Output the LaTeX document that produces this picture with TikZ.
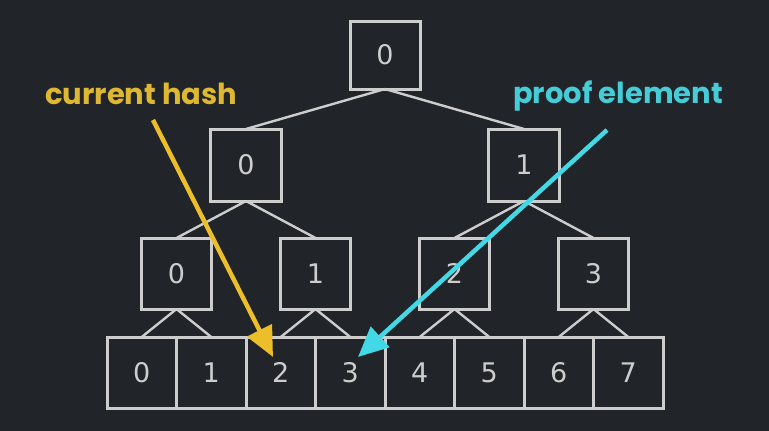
\documentclass[tikz,border=0pt]{standalone}
\usepackage{fontspec}
\setsansfont{DejaVu Sans}
\newfontfamily\labelfont{Poppins}
\usetikzlibrary{arrows.meta,calc,positioning}
\definecolor{figBg}{RGB}{33,36,41}
\definecolor{figW}{RGB}{205,205,205}
\definecolor{figY}{RGB}{236,190,42}
\definecolor{figYt}{RGB}{222,184,50}
\definecolor{figC}{RGB}{66,216,230}
\definecolor{figCt}{RGB}{70,204,214}

\begin{document}
\begin{tikzpicture}[x=1pt,y=-1pt,
  hbox/.style={draw=figW,line width=3pt,outer sep=0pt,inner sep=0pt,minimum width=70pt,minimum height=71pt,
    text=figW,font=\sffamily\fontsize{27}{27}\selectfont},
  leaf/.style={hbox,minimum width=69.5pt},
  edge/.style={draw=figW,line width=2.4pt},
  ptr/.style={line width=4.5pt,-{Triangle[length=30pt,width=27pt]}},
  lbl/.style={font=\labelfont\bfseries\fontsize{29}{29}\selectfont,anchor=base west,inner sep=0pt}]
\path[fill=figBg] (0,0) rectangle (769,431);
% leaves
\node[leaf] (l0) at (141.75,372.5) {0};
\node[leaf,right=0pt of l0] (l1) {1};
\node[leaf,right=0pt of l1] (l2) {2};
\node[leaf,right=0pt of l2] (l3) {3};
\node[leaf,right=0pt of l3] (l4) {4};
\node[leaf,right=0pt of l4] (l5) {5};
\node[leaf,right=0pt of l5] (l6) {6};
\node[leaf,right=0pt of l6] (l7) {7};
% upper levels
\node[hbox] (q0) at (176.5,273.5) {0};
\node[hbox] (q1) at (315.5,273.5) {1};
\node[hbox] (q2) at (454.5,273.5) {2};
\node[hbox] (q3) at (593.5,273.5) {3};
\node[hbox,minimum width=71pt,minimum height=72pt] (h0) at (246,165) {0};
\node[hbox,minimum width=71pt,minimum height=72pt] (h1) at (524,165) {1};
\node[hbox,minimum height=68pt] (r) at (385,55) {0};
\draw[edge] (r.south) -- (h0.north) (r.south) -- (h1.north);
\draw[edge] (h0.south) -- (q0.north) (h0.south) -- (q1.north);
\draw[edge] (h1.south) -- (q2.north) (h1.south) -- (q3.north);
\draw[edge] (q0.south) -- (l0.north) (q0.south) -- (l1.north);
\draw[edge] (q1.south) -- (l2.north) (q1.south) -- (l3.north);
\draw[edge] (q2.south) -- (l4.north) (q2.south) -- (l5.north);
\draw[edge] (q3.south) -- (l6.north) (q3.south) -- (l7.north);
% pointers
\node[lbl,text=figYt] (cur) at (45,104) {current hash};
\node[lbl,text=figCt] (prf) at (513,103) {proof element};
\coordinate (curtail) at (153,120);
\coordinate (curtip) at (273,357);
\coordinate (prftail) at (607,130);
\coordinate (prftip) at (358,357);
\draw[ptr,figY] (curtail) -- (curtip);
\draw[ptr,figC] (prftail) -- (prftip);
\end{tikzpicture}
\end{document}
